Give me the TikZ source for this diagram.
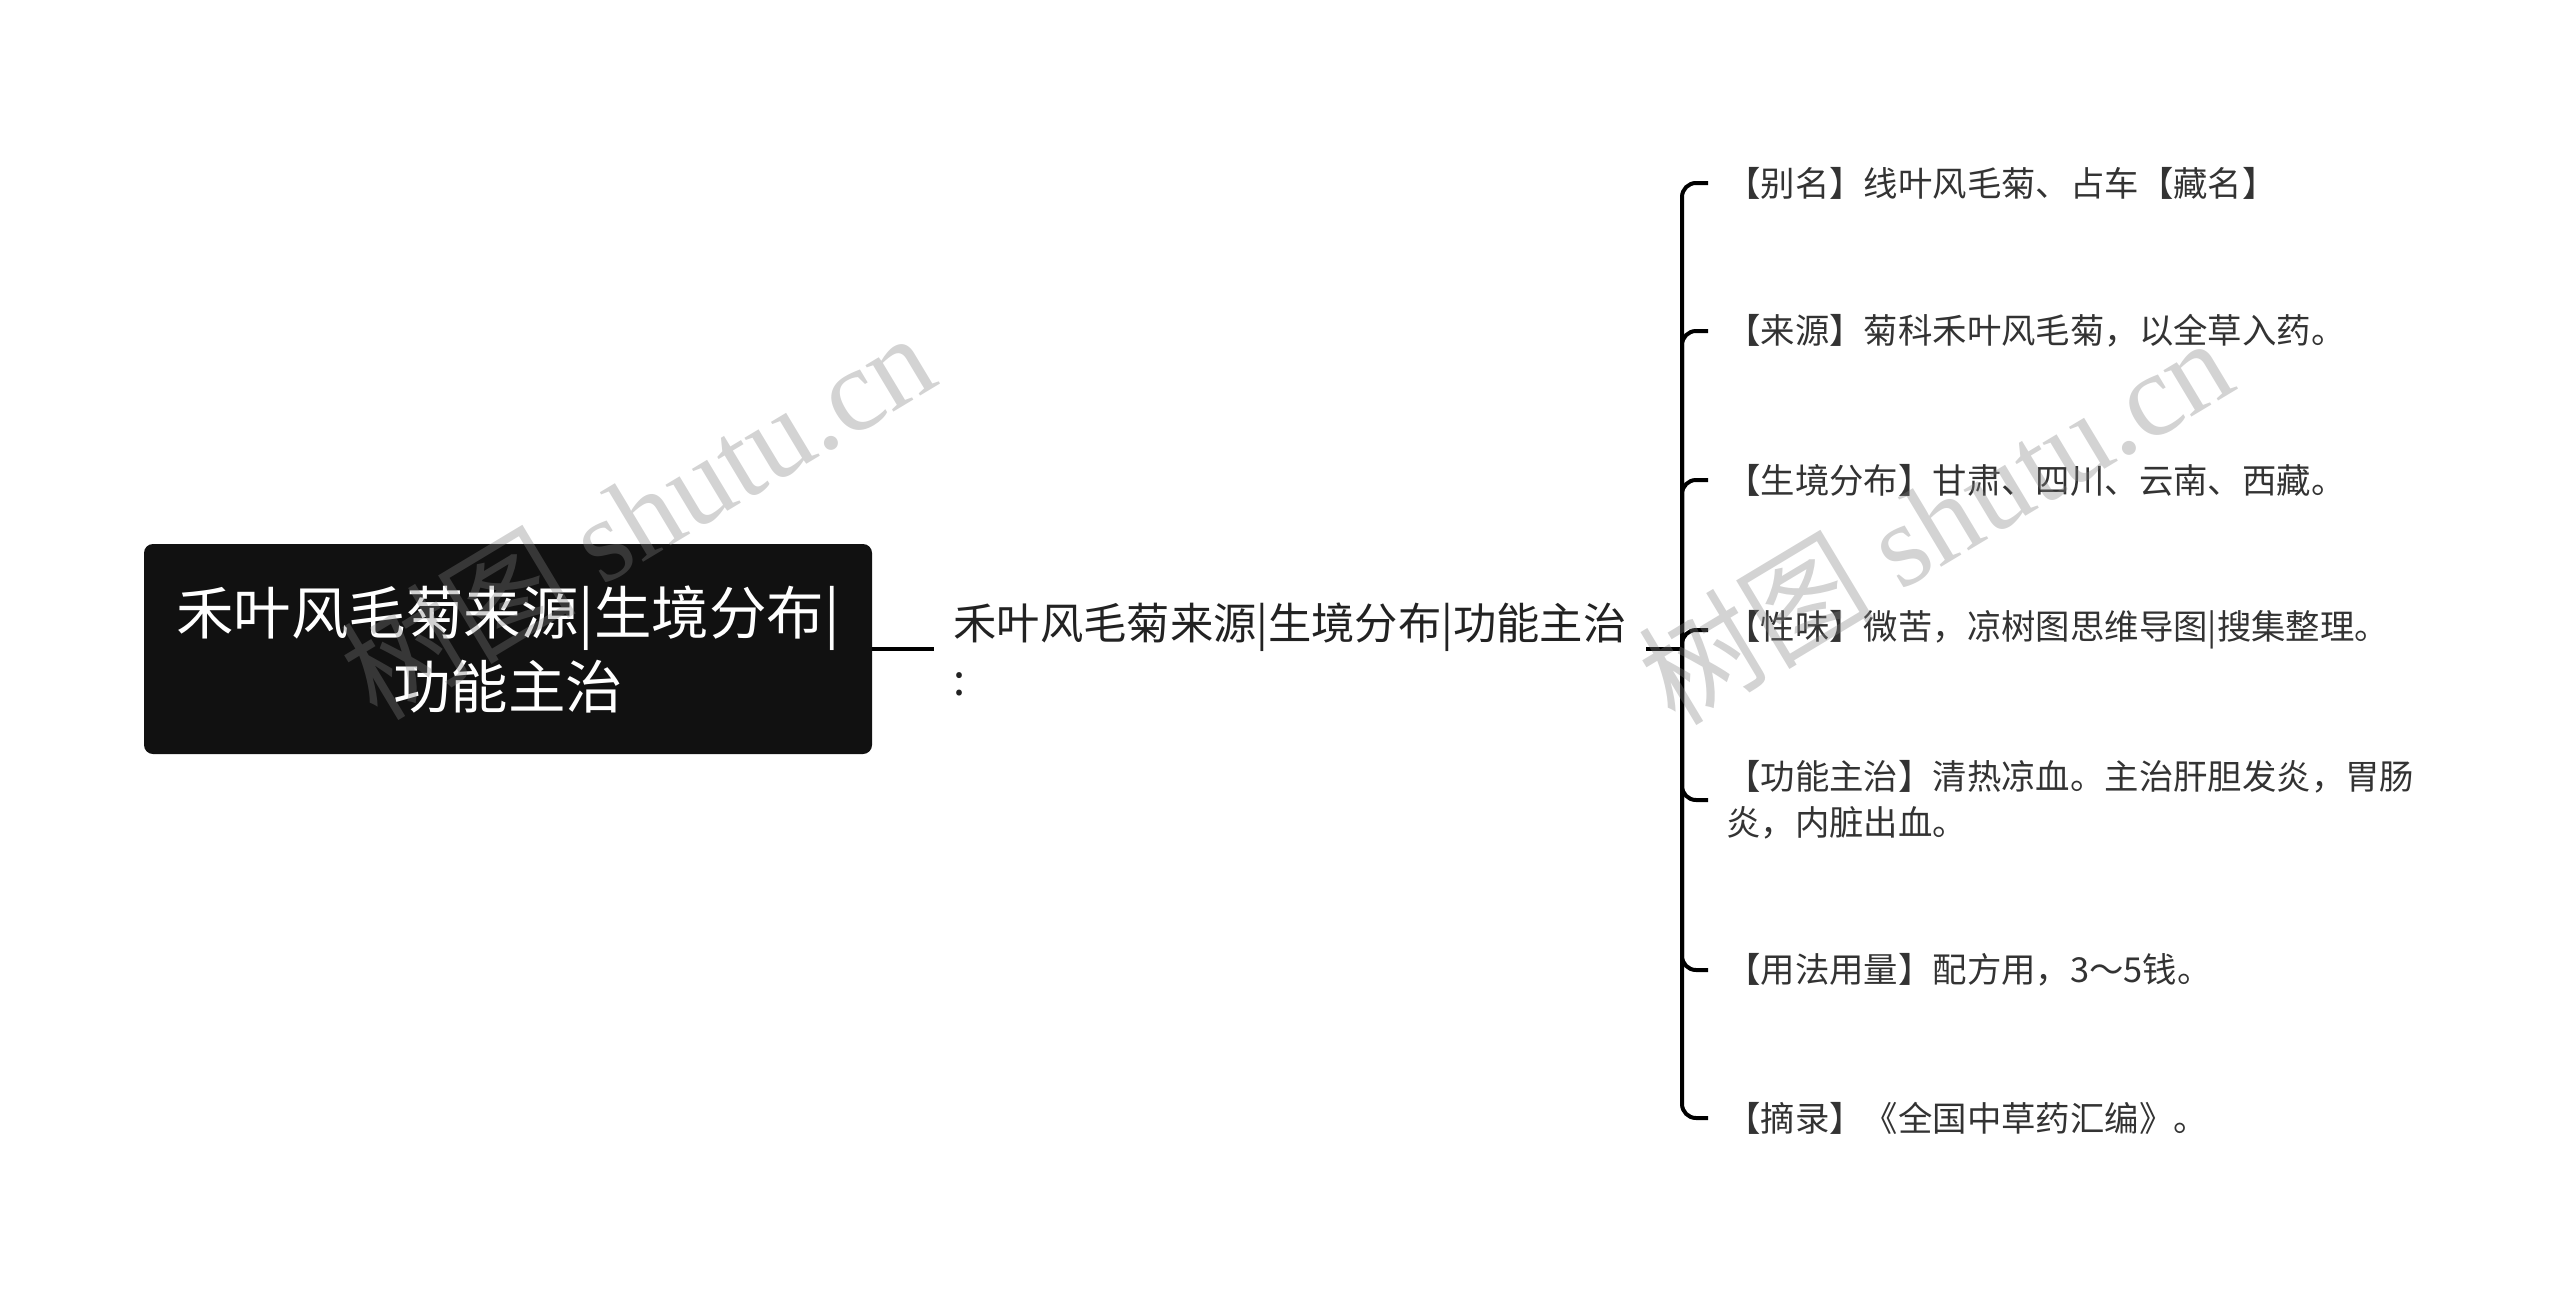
\documentclass[tikz,border=0pt]{standalone}
\usepackage{fontspec}
\setmainfont{Noto Sans CJK SC}
\newfontfamily\wmlatin{Liberation Serif}
\usetikzlibrary{positioning,calc}
\definecolor{rootfill}{HTML}{111111}
\definecolor{midink}{HTML}{222222}
\definecolor{leafink}{HTML}{333333}
\tikzset{
  rootbox/.style = {fill=rootfill, text=white, rounded corners=9pt, inner sep=0pt,
                    minimum width=728pt, minimum height=210pt, align=center,
                    font=\fontsize{57.5}{74}\selectfont},
  midnode/.style = {text=midink, align=left, inner sep=0pt, minimum width=712pt,
                    font=\fontsize{43.3}{56}\selectfont},
  leaf/.style    = {anchor=west, text=leafink, align=left, inner xsep=18pt,
                    font=\fontsize{34.4}{46}\selectfont},
  wire/.style    = {line width=4pt, black},
  branch/.style  = {line width=4pt, black, rounded corners=14pt},
  wmark/.style   = {text=gray, opacity=0.35, rotate=31,
                    font=\fontsize{118}{118}\selectfont},
}
\begin{document}
\begin{tikzpicture}[x=1pt,y=-1pt]
  \useasboundingbox (0,0) rectangle (2560,1299);
  \node[rootbox] (root) at (508,649) {禾叶风毛菊来源|生境分布|\\功能主治};
  \node[midnode] (mid) at (1290,649) {禾叶风毛菊来源|生境分布|功能主治\\:};
  \coordinate (jn) at (1682,649);
  % leaves
  \node[leaf] (alias) at (1708,183)  {【别名】线叶风毛菊、占车【藏名】};
  \node[leaf] (origin) at (1708,331) {【来源】菊科禾叶风毛菊，以全草入药。};
  \node[leaf] (habitat) at (1708,480) {【生境分布】甘肃、四川、云南、西藏。};
  \node[leaf] (taste) at (1708,630)  {【性味】微苦，凉树图思维导图|搜集整理。};
  \node[leaf] (usage) at (1708,800)  {【功能主治】清热凉血。主治肝胆发炎，胃肠\\炎，内脏出血。};
  \node[leaf] (dose) at (1708,970)   {【用法用量】配方用，3～5钱。};
  \node[leaf] (source) at (1708,1118) {【摘录】《全国中草药汇编》。};
  \draw[wire] (root.east) -- (mid.west);
  \draw[wire] (mid.east) -- (jn);
  \foreach \n in {alias,origin,habitat,taste,usage,dose,source}
    \draw[branch] (jn) |- (\n.west);
  % watermark
  \node[wmark] (wm1) at (637,514) {树图 {\wmlatin shutu.cn}};
  \node[wmark] (wm2) at (1935,519) {树图 {\wmlatin shutu.cn}};
\end{tikzpicture}
\end{document}
